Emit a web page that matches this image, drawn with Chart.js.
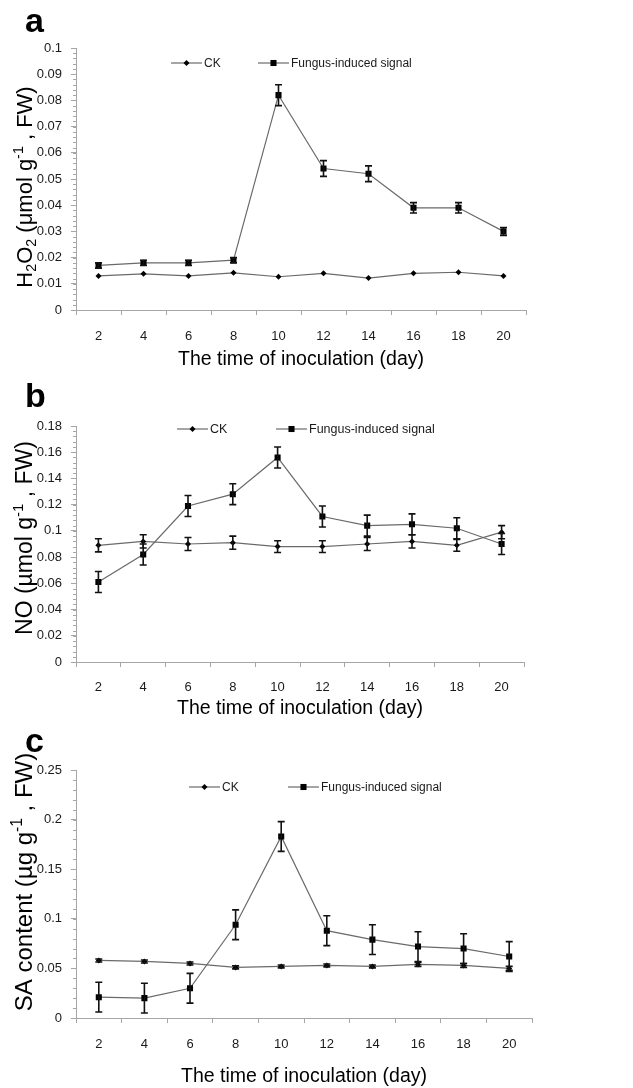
<!DOCTYPE html>
<html>
<head>
<meta charset="utf-8">
<script src="https://cdn.jsdelivr.net/npm/chart.js@4.4.1/dist/chart.umd.min.js"></script>
<style>
  html, body { margin: 0; padding: 0; background: #fff; }
  #wrap { position: relative; width: 633px; height: 1088px; overflow: hidden; }
  canvas { position: absolute; left: 0; }
  .tag { position: absolute; font: bold 34px "Liberation Sans", Arial, sans-serif; color: #000; line-height: 1; }
</style>
</head>
<body>
<div id="wrap">
  <canvas id="chartA" width="633" height="372" style="top:0px"></canvas>
  <canvas id="chartB" width="633" height="350" style="top:372px"></canvas>
  <canvas id="chartC" width="633" height="366" style="top:722px"></canvas>
  <div class="tag" style="left:25px;top:3px">a</div>
  <div class="tag" style="left:25px;top:378px">b</div>
  <div class="tag" style="left:25px;top:723px">c</div>
</div>
<script>
/* ================= DATA ================= */
const days = ["2", "4", "6", "8", "10", "12", "14", "16", "18", "20"];

// a: H2O2
const h2o2Ck        = [0.013, 0.0138, 0.013, 0.0142, 0.0127, 0.014, 0.0122, 0.014, 0.0144, 0.013];
const h2o2CkErr     = [0, 0, 0, 0, 0, 0, 0, 0, 0, 0];
const h2o2Fungus    = [0.017, 0.018, 0.018, 0.019, 0.082, 0.054, 0.052, 0.039, 0.039, 0.030];
const h2o2FungusErr = [0.001, 0.001, 0.001, 0.001, 0.004, 0.003, 0.003, 0.002, 0.002, 0.0015];
const h2o2Y         = [0, 0.1, 0.01];   // min, max, step

// b: NO
const noCk        = [0.089, 0.092, 0.090, 0.091, 0.088, 0.088, 0.090, 0.092, 0.089, 0.099];
const noCkErr     = [0.005, 0.005, 0.005, 0.005, 0.0045, 0.0045, 0.005, 0.005, 0.0045, 0.005];
const noFungus    = [0.061, 0.082, 0.119, 0.128, 0.156, 0.111, 0.104, 0.105, 0.102, 0.090];
const noFungusErr = [0.008, 0.008, 0.008, 0.008, 0.008, 0.008, 0.008, 0.008, 0.008, 0.008];
const noY         = [0, 0.18, 0.02];

// c: SA
const saCk        = [0.058, 0.057, 0.055, 0.051, 0.052, 0.053, 0.052, 0.054, 0.053, 0.050];
const saCkErr     = [0.0015, 0.0015, 0.0015, 0.0015, 0.0015, 0.0015, 0.0015, 0.002, 0.002, 0.002];
const saFungus    = [0.021, 0.020, 0.030, 0.094, 0.183, 0.088, 0.079, 0.072, 0.070, 0.062];
const saFungusErr = [0.015, 0.015, 0.015, 0.015, 0.015, 0.015, 0.015, 0.015, 0.015, 0.015];
const saY         = [0, 0.25, 0.05];

/* ================= STYLE ================= */
const ARIAL = '"Liberation Sans", Arial, sans-serif';
const LINE  = "#6a6a6a";
const AXIS  = "#a6a6a6";
const TEXT  = "#1a1a1a";

/* ================= PLUGINS ================= */
const errorBars = {
  id: "errorBars",
  afterDatasetsDraw(chart) {
    const ctx = chart.ctx, y = chart.scales.y;
    chart.data.datasets.forEach((ds, i) => {
      if (!ds.errors) return;
      chart.getDatasetMeta(i).data.forEach((pt, j) => {
        const e = ds.errors[j];
        if (!e) return;
        const top = y.getPixelForValue(ds.data[j] + e);
        const bot = y.getPixelForValue(ds.data[j] - e);
        ctx.save();
        ctx.strokeStyle = "#111";
        ctx.lineWidth = 1.6;
        ctx.beginPath();
        ctx.moveTo(pt.x, top); ctx.lineTo(pt.x, bot);
        ctx.moveTo(pt.x - 3.5, top); ctx.lineTo(pt.x + 3.5, top);
        ctx.moveTo(pt.x - 3.5, bot); ctx.lineTo(pt.x + 3.5, bot);
        ctx.stroke();
        ctx.restore();
      });
    });
  }
};

const minorTicks = {
  id: "minorTicks",
  afterDraw(chart, args, opts) {
    const y = chart.scales.y, ctx = chart.ctx;
    const n = Math.round((y.max - y.min) / opts.step);
    ctx.save();
    ctx.strokeStyle = AXIS;
    ctx.lineWidth = 1;
    for (let i = 0; i <= n; i++) {
      const py = Math.round(y.getPixelForValue(y.min + i * opts.step)) + 0.5;
      ctx.beginPath();
      ctx.moveTo(y.right - 3, py);
      ctx.lineTo(y.right, py);
      ctx.stroke();
    }
    ctx.restore();
  }
};

const panelLegend = {
  id: "panelLegend",
  afterDraw(chart, args, opts) {
    const ctx = chart.ctx;
    ctx.save();
    chart.data.datasets.forEach((ds, i) => {
      const x0 = opts.xs[i], yy = opts.y;
      ctx.strokeStyle = LINE;
      ctx.lineWidth = 1.2;
      ctx.beginPath();
      ctx.moveTo(x0, yy); ctx.lineTo(x0 + opts.len, yy);
      ctx.stroke();
      ctx.fillStyle = "#000";
      Chart.helpers.drawPoint(ctx, { pointStyle: ds.pointStyle, radius: ds.pointRadius, borderWidth: 0 }, x0 + opts.len / 2, yy);
      ctx.fillStyle = TEXT;
      ctx.font = opts.font;
      ctx.textBaseline = "middle";
      ctx.textAlign = "left";
      ctx.fillText(ds.label, x0 + opts.len + 2, yy + 1);
    });
    ctx.restore();
  }
};

const yTitle = {
  id: "yTitle",
  afterDraw(chart, args, opts) {
    const ctx = chart.ctx, s = opts.size;
    const fontOf = p => (p.sub || p.sup ? s * 0.65 : s) + "px " + ARIAL;
    ctx.save();
    ctx.translate(opts.x, opts.y);
    ctx.rotate(-Math.PI / 2);
    let w = 0;
    opts.parts.forEach(p => { ctx.font = fontOf(p); w += ctx.measureText(p.t).width; });
    let x = -w / 2;
    ctx.fillStyle = "#000";
    ctx.textBaseline = "alphabetic";
    opts.parts.forEach(p => {
      ctx.font = fontOf(p);
      const dy = p.sub ? s * 0.2 : p.sup ? -s * 0.42 : 0;
      ctx.fillText(p.t, x, s * 0.36 + dy);
      x += ctx.measureText(p.t).width;
    });
    ctx.restore();
  }
};

/* ================= CHART ================= */
function makeChart(id, cfg) {
  const tickFont = { family: ARIAL, size: cfg.tickSize };
  return new Chart(document.getElementById(id), {
    type: "line",
    data: {
      labels: days,
      datasets: [
        {
          label: "CK", data: cfg.ck, errors: cfg.ckErr,
          borderColor: LINE, borderWidth: 1.2, tension: 0,
          pointStyle: "rectRot", pointRadius: 3, pointBorderWidth: 0,
          pointBackgroundColor: "#000", pointBorderColor: "#000"
        },
        {
          label: "Fungus-induced signal", data: cfg.fungus, errors: cfg.fungusErr,
          borderColor: LINE, borderWidth: 1.2, tension: 0,
          pointStyle: "rect", pointRadius: 4.3, pointBorderWidth: 0,
          pointBackgroundColor: "#000", pointBorderColor: "#000"
        }
      ]
    },
    options: {
      responsive: false,
      animation: false,
      events: [],
      layout: { padding: { left: 0, top: cfg.top, right: cfg.right, bottom: 0 } },
      plugins: {
        legend: { display: false },
        tooltip: { enabled: false },
        minorTicks: { step: cfg.yRange[2] / 5 },
        panelLegend: cfg.legend,
        yTitle: cfg.yTitle
      },
      scales: {
        x: {
          type: "category",
          offset: true,
          grid: { offset: true, drawOnChartArea: false, tickLength: 5, color: AXIS },
          border: { color: AXIS },
          ticks: { font: tickFont, color: TEXT, padding: cfg.xTickPad, maxRotation: 0 },
          title: {
            display: true, text: "The time of inoculation (day)", color: "#000",
            font: { family: ARIAL, size: 19.5 }, padding: { top: 0, bottom: cfg.xTitlePad }
          },
          afterFit: s => { s.height = cfg.xHeight; }
        },
        y: {
          min: cfg.yRange[0],
          max: cfg.yRange[1],
          ticks: {
            stepSize: cfg.yRange[2], font: tickFont, color: TEXT, padding: 9,
            callback: v => String(Math.round(v * 1000) / 1000)
          },
          grid: { drawOnChartArea: false, tickLength: 5, color: AXIS },
          border: { color: AXIS },
          afterFit: s => { s.width = 76; }
        }
      }
    },
    plugins: [errorBars, minorTicks, panelLegend, yTitle]
  });
}

makeChart("chartA", {
  ck: h2o2Ck, ckErr: h2o2CkErr, fungus: h2o2Fungus, fungusErr: h2o2FungusErr, yRange: h2o2Y,
  top: 48, right: 107, xHeight: 62, xTickPad: 14, xTitlePad: 1, tickSize: 13,
  legend: { xs: [171, 258], len: 31, y: 63, font: "12px " + ARIAL },
  yTitle: { x: 24, y: 187, size: 22, parts: [
    { t: "H" }, { t: "2", sub: true }, { t: "O" }, { t: "2", sub: true },
    { t: " (μmol g" }, { t: "-1", sup: true }, { t: " , FW)" }
  ] }
});

makeChart("chartB", {
  ck: noCk, ckErr: noCkErr, fungus: noFungus, fungusErr: noFungusErr, yRange: noY,
  top: 54, right: 109, xHeight: 60, xTickPad: 13, xTitlePad: 2, tickSize: 13,
  legend: { xs: [177, 276], len: 31, y: 57, font: "12.5px " + ARIAL },
  yTitle: { x: 24, y: 166, size: 23, parts: [
    { t: "NO (µmol g" }, { t: "-1", sup: true }, { t: " , FW)" }
  ] }
});

makeChart("chartC", {
  ck: saCk, ckErr: saCkErr, fungus: saFungus, fungusErr: saFungusErr, yRange: saY,
  top: 48, right: 101, xHeight: 70, xTickPad: 14, xTitlePad: 0, tickSize: 13,
  legend: { xs: [189, 288], len: 31, y: 65, font: "12px " + ARIAL },
  yTitle: { x: 23, y: 160, size: 24, parts: [
    { t: "SA content (µg g" }, { t: "-1", sup: true }, { t: " , FW)" }
  ] }
});
</script>
</body>
</html>
